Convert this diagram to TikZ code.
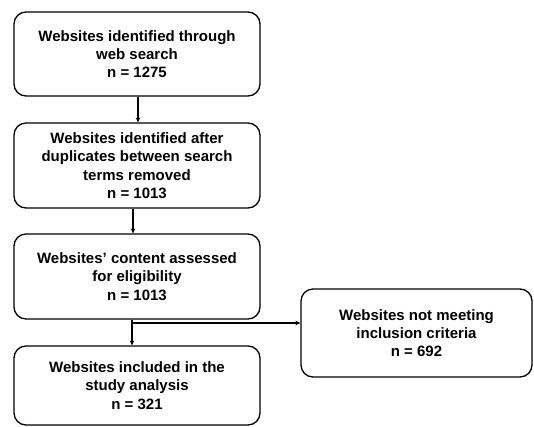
\documentclass[tikz,border=0pt]{standalone}
\usepackage{fontspec}
\setmainfont{Liberation Sans}
\usetikzlibrary{arrows.meta}
\begin{document}
\begin{tikzpicture}[x=1pt,y=-1pt,
  box/.style={draw, line width=1.3pt, rounded corners=12pt, align=center,
    font=\bfseries\fontsize{15}{18.3}\selectfont, inner sep=0pt},
  arr/.style={line width=1.3pt, -{Stealth[length=5pt,width=4.5pt]}}]
\useasboundingbox (0,0) rectangle (534,426);
\node[box, minimum width=246pt, minimum height=84pt] (b1) at (137,54)
  {Websites identified through\\web search\\n = 1275};
\node[box, minimum width=246pt, minimum height=85pt] (b2) at (137,165.5)
  {Websites identified after\\duplicates between search\\terms removed\\n = 1013};
\node[box, minimum width=246pt, minimum height=85pt] (b3) at (137,276.5)
  {Websites’ content assessed\\for eligibility\\n = 1013};
\node[box, minimum width=246pt, minimum height=79pt] (b4) at (137,385.5)
  {Websites included in the\\study analysis\\n = 321};
\node[box, minimum width=231pt, minimum height=88pt] (b5) at (416.5,333)
  {Websites not meeting\\inclusion criteria\\n = 692};
\coordinate (x1) at (138,0);
\coordinate (x2) at (133,0);
\coordinate (x3) at (132,0);
\coordinate (j) at (132,323);
\draw[arr] (b1.south -| x1) -- (b2.north -| x1);
\draw[arr] (b2.south -| x2) -- (b3.north -| x2);
\draw[arr] (b3.south -| x3) -- (b4.north -| x3);
\draw[arr] (j) -- (j -| b5.west);
\end{tikzpicture}
\end{document}
